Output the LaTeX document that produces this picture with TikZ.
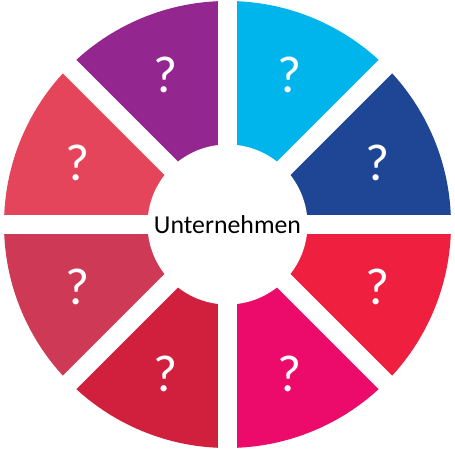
\documentclass[tikz,border=0pt]{standalone}
\usepackage{fontspec}
\setmainfont{Carlito}
\usetikzlibrary{positioning}
\definecolor{segpurple}{HTML}{93268F}
\definecolor{segcyan}{HTML}{00B5EB}
\definecolor{segblue}{HTML}{1E4694}
\definecolor{segred}{HTML}{EE1F3F}
\definecolor{segpink}{HTML}{EC0B6B}
\definecolor{segdarkred}{HTML}{D0203E}
\definecolor{segrose}{HTML}{CE3A55}
\definecolor{segcoral}{HTML}{E5455B}

\begin{document}
\begin{tikzpicture}[x=1pt, y=1pt,
    gap/.style={white, line width=19pt},
    qmark/.style={text=white, inner sep=0pt, font=\fontsize{52}{60}\selectfont}]
    \useasboundingbox (-227.5,-227.5) rectangle (227.5,224.5);

    % segments
    \fill[segblue] (0,0) -- (0:223.5) arc[start angle=0, end angle=45, radius=223.5] -- cycle;
    \fill[segcyan] (0,0) -- (45:223.5) arc[start angle=45, end angle=90, radius=223.5] -- cycle;
    \fill[segpurple] (0,0) -- (90:223.5) arc[start angle=90, end angle=135, radius=223.5] -- cycle;
    \fill[segcoral] (0,0) -- (135:223.5) arc[start angle=135, end angle=180, radius=223.5] -- cycle;
    \fill[segrose] (0,0) -- (180:223.5) arc[start angle=180, end angle=225, radius=223.5] -- cycle;
    \fill[segdarkred] (0,0) -- (225:223.5) arc[start angle=225, end angle=270, radius=223.5] -- cycle;
    \fill[segpink] (0,0) -- (270:223.5) arc[start angle=270, end angle=315, radius=223.5] -- cycle;
    \fill[segred] (0,0) -- (315:223.5) arc[start angle=315, end angle=360, radius=223.5] -- cycle;

    % white gaps
    \draw[gap] (0:230) -- (180:230);
    \draw[gap] (45:230) -- (225:230);
    \draw[gap] (90:230) -- (270:230);
    \draw[gap] (135:230) -- (315:230);

    \node [circle, fill=white, minimum size=160pt, inner sep=0pt, font=\fontsize{25.8}{30}\selectfont] (firm) at (0,0) {Unternehmen};

    \node [qmark] (q1) at (22.5:162) {?};
    \node [qmark] (q2) at (67.5:162) {?};
    \node [qmark] (q3) at (112.5:162) {?};
    \node [qmark] (q4) at (157.5:162) {?};
    \node [qmark] (q5) at (202.5:162) {?};
    \node [qmark] (q6) at (247.5:162) {?};
    \node [qmark] (q7) at (292.5:162) {?};
    \node [qmark] (q8) at (337.5:162) {?};
\end{tikzpicture}
\end{document}
